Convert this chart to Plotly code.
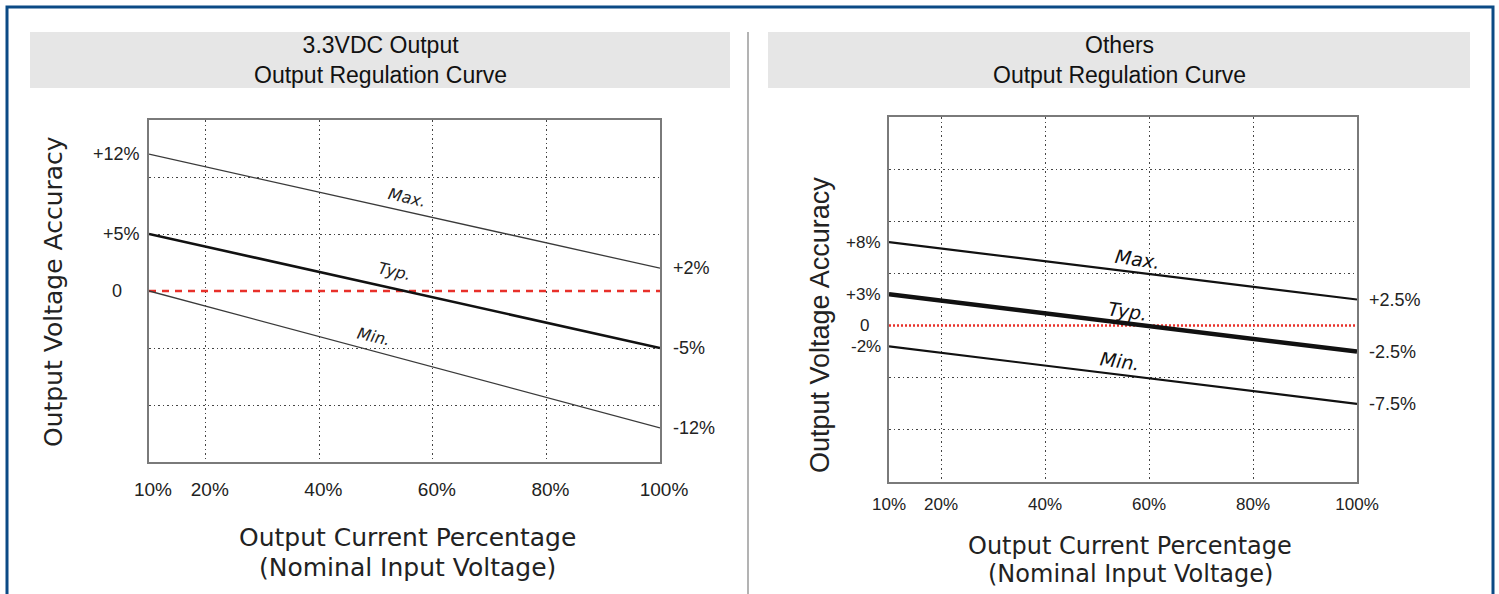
import plotly.graph_objects as go

# ---------------- data ----------------
load_pct = [10, 100]                      # output current percentage (x)
zero_ref = [0, 0]

left_max = [12, 2]
left_typ = [5, -5]
left_min = [0, -12]

right_max = [8, 2.5]
right_typ = [3, -2.5]
right_min = [-2, -7.5]

x_tick_vals = [10, 20, 40, 60, 80, 100]
x_tick_text = ["10%", "20%", "40%", "60%", "80%", "100%"]

left_grid_y = [-10, -5, 5, 10]
right_grid_y = [-10, -5, 5, 10, 15]

left_start_text = ["+12%", "+5%"]
left_end_text = ["+2%", "-5%", "-12%"]
right_start_text = ["+8%", "+3%", "-2%"]
right_end_text = ["+2.5%", "-2.5%", "-7.5%"]

curve_names = ["Max.", "Typ.", "Min."]
left_label_pos = [(55.4, 8.2), (53.3, 1.7), (49.5, -4.0)]
right_label_pos = [(57.7, 6.4), (55.8, 1.4), (54.4, -3.4)]

header_left = "3.3VDC Output<br>Output Regulation Curve"
header_right = "Others<br>Output Regulation Curve"
y_title = "Output Voltage Accuracy"
x_title_1 = "Output Current Percentage"
x_title_2 = "(Nominal Input Voltage)"

# ---------------- layout helpers ----------------
W, H = 1499, 594
def fx(p):
    return p / W
def fy(p):
    return 1 - p / H

CF = "DejaVu Sans"
HF = "Liberation Sans"

fig = go.Figure()

# left panel traces
fig.add_trace(go.Scatter(x=load_pct, y=zero_ref, mode="lines", xaxis="x", yaxis="y",
                         line=dict(color="#e8302a", width=2.5, dash="7px,6px"), hoverinfo="skip"))
fig.add_trace(go.Scatter(x=load_pct, y=left_max, mode="lines", xaxis="x", yaxis="y",
                         line=dict(color="#3a3a3a", width=1.3), name="Max."))
fig.add_trace(go.Scatter(x=load_pct, y=left_min, mode="lines", xaxis="x", yaxis="y",
                         line=dict(color="#3a3a3a", width=1.3), name="Min."))
fig.add_trace(go.Scatter(x=load_pct, y=left_typ, mode="lines", xaxis="x", yaxis="y",
                         line=dict(color="#111111", width=2.6), name="Typ."))

# right panel traces
fig.add_trace(go.Scatter(x=load_pct, y=zero_ref, mode="lines", xaxis="x2", yaxis="y2",
                         line=dict(color="#e8302a", width=2.5, dash="2px,2px"), hoverinfo="skip"))
fig.add_trace(go.Scatter(x=load_pct, y=right_max, mode="lines", xaxis="x2", yaxis="y2",
                         line=dict(color="#111111", width=2.2), name="Max."))
fig.add_trace(go.Scatter(x=load_pct, y=right_min, mode="lines", xaxis="x2", yaxis="y2",
                         line=dict(color="#111111", width=2.2), name="Min."))
fig.add_trace(go.Scatter(x=load_pct, y=right_typ, mode="lines", xaxis="x2", yaxis="y2",
                         line=dict(color="#111111", width=4.5), name="Typ."))

grid_common = dict(showgrid=True, gridcolor="#444444", gridwidth=1, griddash="1.5px,3px",
                   showline=True, mirror=True, linecolor="#7a7a7a", linewidth=1.5,
                   zeroline=False, ticks="", fixedrange=True, automargin=False)

fig.update_layout(
    template="none",
    width=W, height=H, margin=dict(l=0, r=0, t=0, b=0, pad=0), autosize=False,
    paper_bgcolor="white", plot_bgcolor="white", showlegend=False,
    xaxis=dict(domain=[fx(149), fx(660)], range=[10, 100], anchor="y",
               tickvals=x_tick_vals, ticktext=x_tick_text, ticklabelstandoff=9,
               ticklabelshift=4,
               tickfont=dict(family=HF, size=19, color="#222"), **grid_common),
    yaxis=dict(domain=[fy(462), fy(120)], range=[-15, 15], anchor="x",
               tickvals=left_grid_y, showticklabels=False, **grid_common),
    xaxis2=dict(domain=[fx(889), fx(1357)], range=[10, 100], anchor="y2",
                tickvals=x_tick_vals, ticktext=x_tick_text, ticklabelstandoff=6,
                tickfont=dict(family=HF, size=17, color="#222"), **grid_common),
    yaxis2=dict(domain=[fy(482), fy(117)], range=[-15, 20], anchor="x2",
                tickvals=right_grid_y, showticklabels=False, **grid_common),
)

ann = []
def add(**kw):
    kw.setdefault("showarrow", False)
    kw.setdefault("yanchor", "middle")
    kw.setdefault("xanchor", "center")
    ann.append(kw)

# start / end labels, left panel
for txt, val in zip(left_start_text, [left_max[0], left_typ[0]]):
    add(xref="x", yref="y", x=load_pct[0], y=val, text=txt, xanchor="right", xshift=-7,
        font=dict(family=HF, size=18, color="#222"))
add(xref="x", yref="y", x=load_pct[0], y=zero_ref[0], text="0", xshift=-32,
    font=dict(family=HF, size=18, color="#222"))
for txt, val in zip(left_end_text, [left_max[-1], left_typ[-1], left_min[-1]]):
    add(xref="x", yref="y", x=load_pct[-1], y=val, text=txt, xanchor="left", xshift=11,
        font=dict(family=HF, size=18, color="#222"))
# start / end labels, right panel
for txt, val in zip(right_start_text, [right_max[0], right_typ[0], right_min[0]]):
    add(xref="x2", yref="y2", x=load_pct[0], y=val, text=txt, xanchor="right", xshift=-6,
        font=dict(family=HF, size=17, color="#222"))
add(xref="x2", yref="y2", x=load_pct[0], y=zero_ref[0], text="0", xshift=-24,
    font=dict(family=HF, size=17, color="#222"))
for txt, val in zip(right_end_text, [right_max[-1], right_typ[-1], right_min[-1]]):
    add(xref="x2", yref="y2", x=load_pct[-1], y=val, text=txt, xanchor="left", xshift=10,
        font=dict(family=HF, size=18, color="#222"))
# curve labels
for name, (xx, yy) in zip(curve_names, left_label_pos):
    add(xref="x", yref="y", x=xx, y=yy, text="<i>" + name + "</i>", textangle=13,
        font=dict(family=CF, size=16, color="#222"))
for name, (xx, yy) in zip(curve_names, right_label_pos):
    add(xref="x2", yref="y2", x=xx, y=yy, text="<i>" + name + "</i>", textangle=8,
        font=dict(family=CF, size=19, color="#111"))
# axis titles
add(xref="paper", yref="paper", x=fx(53), y=fy(292), text=y_title, textangle=-90,
    font=dict(family=CF, size=25, color="#222"))
add(xref="paper", yref="paper", x=fx(820), y=fy(325), text=y_title, textangle=-90,
    font=dict(family=HF, size=27, color="#222"))
add(xref="paper", yref="paper", x=fx(408), y=fy(537), text=x_title_1,
    font=dict(family=CF, size=25, color="#222"))
add(xref="paper", yref="paper", x=fx(408), y=fy(567), text=x_title_2,
    font=dict(family=CF, size=25, color="#222"))
add(xref="paper", yref="paper", x=fx(1130), y=fy(546), text=x_title_1,
    font=dict(family=CF, size=24, color="#222"))
add(xref="paper", yref="paper", x=fx(1130), y=fy(574), text=x_title_2,
    font=dict(family=CF, size=24, color="#222"))
# headers
add(xref="paper", yref="paper", x=fx(380), y=fy(60), text=header_left,
    font=dict(family=HF, size=23, color="#111"))
add(xref="paper", yref="paper", x=fx(1119), y=fy(60), text=header_right,
    font=dict(family=HF, size=23, color="#111"))
fig.update_layout(annotations=ann)

shapes = [
    dict(type="rect", xref="paper", yref="paper", x0=fx(30), x1=fx(730), y0=fy(88), y1=fy(32),
         fillcolor="#e6e6e6", line=dict(width=0), layer="below"),
    dict(type="rect", xref="paper", yref="paper", x0=fx(768), x1=fx(1470), y0=fy(88), y1=fy(32),
         fillcolor="#e6e6e6", line=dict(width=0), layer="below"),
    dict(type="line", xref="paper", yref="paper", x0=fx(748), x1=fx(748), y0=fy(600), y1=fy(32),
         line=dict(color="#9a9a9a", width=1.5)),
    dict(type="rect", xref="paper", yref="paper", x0=fx(7), x1=fx(1493), y0=fy(610), y1=fy(7),
         line=dict(color="#0b4a85", width=3), fillcolor="rgba(0,0,0,0)"),
]
fig.update_layout(shapes=shapes)

fig.write_html("out.html", config={"displayModeBar": False},
               post_script="document.body.style.margin='0';document.body.style.overflow='hidden';")
